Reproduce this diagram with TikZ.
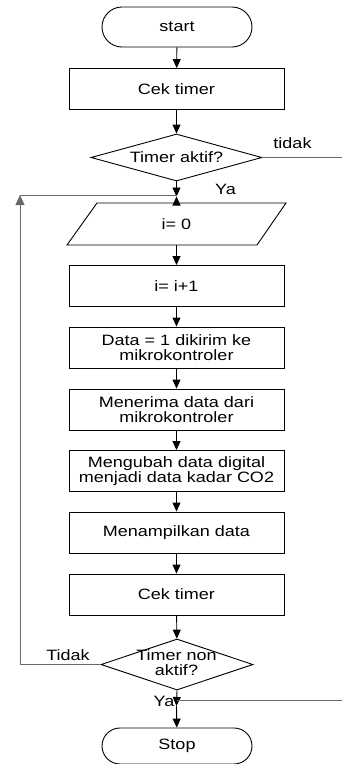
\documentclass[tikz,border=0pt]{standalone}
\usepackage{fontspec}
\newfontfamily\lab[FakeStretch=1.2]{Liberation Sans}
\usetikzlibrary{shapes.geometric,shapes.misc,arrows.meta}
\definecolor{sidegray}{RGB}{105,105,105}
\tikzset{
  base/.style={font=\lab\fontsize{15}{15}\selectfont, align=center, inner sep=0pt, line width=0.9pt},
  term/.style={base, draw, rounded rectangle, minimum width=150pt, minimum height=40pt},
  procbox/.style={base, draw, rectangle, minimum width=215pt, minimum height=41pt},
  decision/.style={base, draw, diamond, aspect=3.6},
  iobox/.style={base, minimum width=190pt, minimum height=42pt},
  lbl/.style={font=\lab\fontsize{15}{15}\selectfont, inner sep=0pt},
  flow/.style={line width=0.9pt, -{Triangle[length=9pt,width=8pt]}},
  sideline/.style={line width=1pt, draw=sidegray},
}
\begin{document}
\begin{tikzpicture}[x=1pt,y=-1pt]
\useasboundingbox (0,0) rectangle (342,764);
\node[term] (start) at (177,27) {start};
\node[procbox] (cek1) at (176.5,89) {Cek timer};
\node[decision, minimum width=171pt, minimum height=47pt] (d1) at (176.5,157.5) {Timer aktif?};
\coordinate (j1) at (176.5,196.5);
\node[iobox] (i0) at (176.5,224) {i= 0};
\draw[line width=0.9pt] (97,203) -- (286,203) -- (257,245) -- (67,245) -- cycle;
\node[procbox] (inc) at (176.5,286) {i= i+1};
\node[procbox] (data) at (176.5,347.5) {Data = 1 dikirim ke\\mikrokontroler};
\node[procbox] (terima) at (176.5,409.5) {Menerima data dari\\mikrokontroler};
\node[procbox] (ubah) at (176.5,471) {Mengubah data digital\\menjadi data kadar CO2};
\node[procbox] (tampil) at (176.5,532.5) {Menampilkan data};
\node[procbox] (cek2) at (176.5,594.5) {Cek timer};
\node[decision, minimum width=152pt, minimum height=51pt] (d2) at (177,664.5) {};
\node[lbl, align=center] (d2t) at (176.5,663) {Timer non\\aktif?};
\coordinate (j2) at (176.5,706);
\coordinate (j2h) at (176.5,700);
\node[term, minimum height=36pt] (stop) at (177,746) {Stop};

\coordinate (e1) at (342,157.5);
\coordinate (e2) at (342,700);
\coordinate (lc) at (20,195);
\coordinate (lj) at (176.5,195);

% main flow
\draw[flow] (start) -- (cek1);
\draw[flow] (cek1) -- (d1);
\draw[flow] (d1) -- (j1);
\draw[flow] (i0.north) -- (j1);
\draw[flow] (i0.south) -- (inc);
\draw[flow] (inc) -- (data);
\draw[flow] (data) -- (terima);
\draw[flow] (terima) -- (ubah);
\draw[flow] (ubah) -- (tampil);
\draw[flow] (tampil) -- (cek2);
\draw[flow] (cek2) -- (d2);
\draw[flow] (d2.south) -- (j2);
\draw[flow] (j2) -- (stop);

% side lines
\draw[sideline] (d1.east) -- (e1);
\draw[sideline] (e2) -- (j2h);
\draw[sideline, -{Triangle[length=10pt,width=9pt]}] (d2.west) -| (lc);
\draw[sideline] (lc) -- (lj);

% labels
\node[lbl] (ltidak) at (292.5,143) {tidak};
\node[lbl] (lya1) at (225.5,189) {Ya};
\node[lbl] (ltidak2) at (68,655.5) {Tidak};
\node[lbl] (lya2) at (164,701.5) {Ya};
\end{tikzpicture}
\end{document}
